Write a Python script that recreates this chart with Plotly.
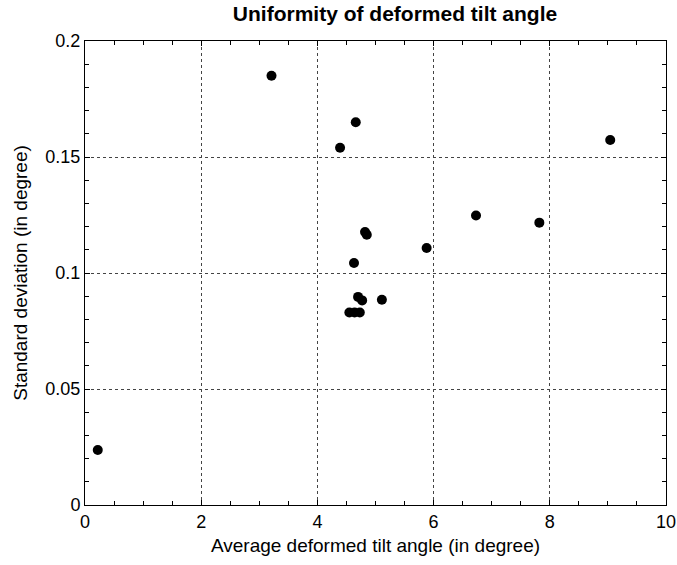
import plotly.graph_objects as go

avg_tilt = [0.22, 3.21, 4.66, 4.39, 4.82, 4.85, 5.88, 4.63, 4.70, 4.77, 5.11, 4.55, 4.64, 4.73, 6.73, 7.82, 9.04]
std_dev = [0.0237, 0.185, 0.165, 0.154, 0.1177, 0.1165, 0.1108, 0.1043, 0.0897, 0.0882, 0.0885, 0.083, 0.083, 0.083, 0.1248, 0.1217, 0.1573]

x_ticks = [0, 2, 4, 6, 8, 10]
y_ticks = [0, 0.05, 0.1, 0.15, 0.2]
y_tick_labels = ["0", "0.05", "0.1", "0.15", "0.2"]

font_family = "Liberation Sans, Arial, sans-serif"

fig = go.Figure()
fig.add_trace(go.Scatter(
    x=avg_tilt, y=std_dev, mode="markers",
    marker=dict(color="black", size=10, line=dict(width=0)),
    showlegend=False,
))

grid_style = dict(showgrid=True, gridcolor="#444", griddash="3px,3px", gridwidth=1)

fig.update_layout(
    width=677, height=565,
    margin=dict(l=85, r=11, t=41, b=60, autoexpand=False),
    paper_bgcolor="white", plot_bgcolor="white",
    font=dict(family=font_family, color="black"),
    title=dict(text="<b>Uniformity of deformed tilt angle</b>", x=395 / 677, xanchor="center",
               y=1 - 14 / 565, yanchor="middle", font=dict(size=21, family=font_family)),
    xaxis=dict(
        range=[0, 10], tickvals=x_ticks, ticktext=[str(v) for v in x_ticks],
        ticks="inside", ticklen=5, tickcolor="black",
        minor=dict(dtick=0.5, ticks="inside", ticklen=4, tickcolor="black", showgrid=False),
        showline=True, linecolor="black", linewidth=1, mirror="ticks",
        zeroline=False, tickfont=dict(size=18), automargin=False,
        title=dict(text="Average deformed tilt angle (in degree)", font=dict(size=19), standoff=8),
        **grid_style,
    ),
    yaxis=dict(
        range=[0, 0.2], tickvals=y_ticks, ticktext=y_tick_labels,
        ticks="inside", ticklen=5, tickcolor="black",
        minor=dict(dtick=0.01, ticks="inside", ticklen=4, tickcolor="black", showgrid=False),
        showline=True, linecolor="black", linewidth=1, mirror="ticks",
        zeroline=False, tickfont=dict(size=18), automargin=False,
        title=dict(text="Standard deviation (in degree)", font=dict(size=19), standoff=12),
        **grid_style,
    ),
)

fig.write_html("out.html")
